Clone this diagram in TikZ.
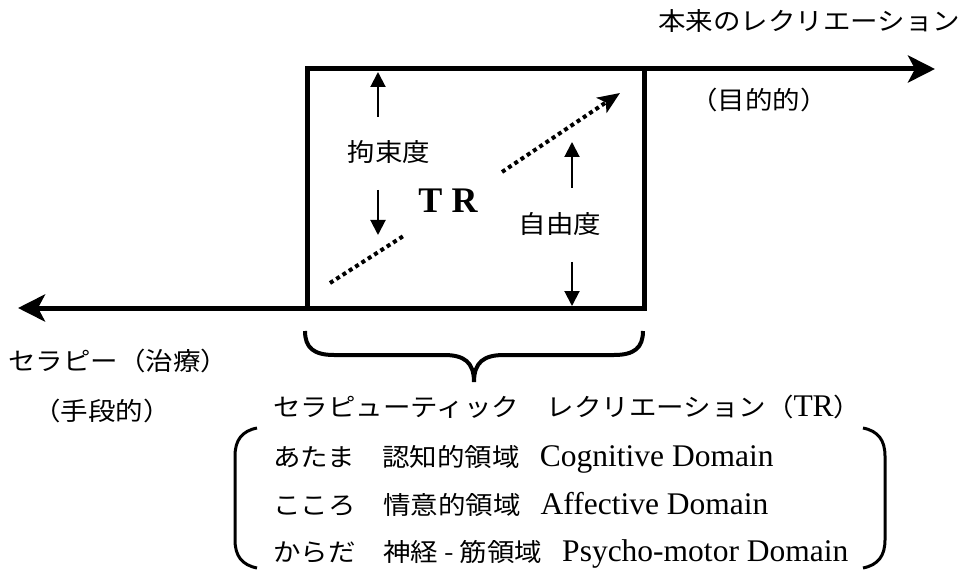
\documentclass[tikz,border=0pt]{standalone}
\usepackage{fontspec}
\setmainfont{Liberation Serif}
\newfontfamily\jp[FakeStretch=1.1]{Noto Sans CJK JP}
\usetikzlibrary{arrows.meta}
\newcommand\jpsize{\fontsize{25}{30}\selectfont}
\newcommand\latsize{\fontsize{31.5}{36}\selectfont}
\tikzset{
  heavy/.style={line width=5pt},
  bigarrow/.style={line width=5pt,-{Stealth[length=27pt,width=27pt,inset=7pt]}},
  smallarrow/.style={line width=2pt,-{Triangle[length=15pt,width=15pt]}},
  dotarrow/.style={line width=4pt,dash pattern=on 4pt off 3.5pt},
  dotarrowtip/.style={line width=4pt,dash pattern=on 4pt off 3.5pt,-{Stealth[length=22pt,width=18pt,inset=5pt]}},
  jptext/.style={inner sep=0pt,font=\jp\jpsize},
  rowtext/.style={inner sep=0pt,anchor=base west},
  bracket/.style={line width=3pt},
  bracestyle/.style={line width=4pt},
}
\begin{document}
\begin{tikzpicture}[x=1pt,y=-1pt]
\useasboundingbox (0,0) rectangle (972,572);
% main box and axis arrows
\coordinate (TL) at (307,69);
\coordinate (TRc) at (644,69);
\coordinate (BL) at (307,308);
\coordinate (BR) at (644,308);
\coordinate (rightEnd) at (935,69);
\coordinate (leftEnd) at (18,308);
\draw[heavy] (TL) rectangle (BR);
\draw[bigarrow] (TRc) -- (rightEnd);
\draw[bigarrow] (BL) -- (leftEnd);
% inner arrows
\coordinate (a1s) at (378,117); \coordinate (a1e) at (378,72);
\coordinate (a2s) at (378,190); \coordinate (a2e) at (378,235);
\coordinate (a3s) at (572,188); \coordinate (a3e) at (572,142);
\coordinate (a4s) at (572,262); \coordinate (a4e) at (572,306);
\draw[smallarrow] (a1s) -- (a1e);
\draw[smallarrow] (a2s) -- (a2e);
\draw[smallarrow] (a3s) -- (a3e);
\draw[smallarrow] (a4s) -- (a4e);
% dotted diagonal
\coordinate (d1s) at (330,283); \coordinate (d1e) at (405,235);
\coordinate (d2s) at (502,172); \coordinate (d2e) at (620,93);
\draw[dotarrow] (d1s) -- (d1e);
\draw[dotarrowtip] (d2s) -- (d2e);
% labels in box
\node[jptext,anchor=base] (kousoku) at (389,162) {拘束度};
\node[jptext,anchor=base] (jiyuu) at (560,234) {自由度};
\node[inner sep=0pt,anchor=base,font=\bfseries\fontsize{36}{40}\selectfont] (tr) at (448,213) {T R};
% outer labels
\node[jptext,anchor=base west] (honrai) at (658,31) {本来のレクリエーション};
\node[jptext,anchor=base] (mokuteki) at (759,110) {（目的的）};
\node[jptext,anchor=base west] (therapy) at (8,370) {セラピー（治療）};
\node[jptext,anchor=base] (shudan) at (102,420) {（手段的）};
% brace
\coordinate (brL) at (305,331);
\coordinate (brR) at (643,331);
\coordinate (brTip) at (474,382);
\draw[bracestyle] (brL) .. controls (305,348) and (314,355) .. (334,355) -- (444,355)
  .. controls (464,355) and (474,362) .. (brTip)
  .. controls (474,362) and (484,355) .. (504,355) -- (614,355)
  .. controls (634,355) and (643,348) .. (brR);
% title and rows
\node[rowtext] (title) at (273,416) {\jp\jpsize セラピューティック　レクリエーション（{\rmfamily\latsize TR}）};
\node[rowtext] (row1) at (273,466) {{\jp\jpsize あたま　認知的領域}\hspace{20pt}{\latsize Cognitive Domain}};
\node[rowtext] (row2) at (273,514) {{\jp\jpsize こころ　情意的領域}\hspace{20pt}{\latsize Affective Domain}};
\node[rowtext] (row3) at (273,561) {{\jp\jpsize からだ　神経\hspace{6pt}-\hspace{6pt}筋領域}\hspace{20pt}{\latsize Psycho-motor Domain}};
% round brackets
\coordinate (lbT) at (257,428); \coordinate (lbB) at (257,568);
\coordinate (rbT) at (863,428); \coordinate (rbB) at (863,568);
\draw[bracket] (lbT) .. controls (242,431) and (235,440) .. (235,456) -- (235,540)
  .. controls (235,556) and (242,565) .. (lbB);
\draw[bracket] (rbT) .. controls (878,431) and (885,440) .. (885,456) -- (885,540)
  .. controls (885,556) and (878,565) .. (rbB);
\end{tikzpicture}
\end{document}
